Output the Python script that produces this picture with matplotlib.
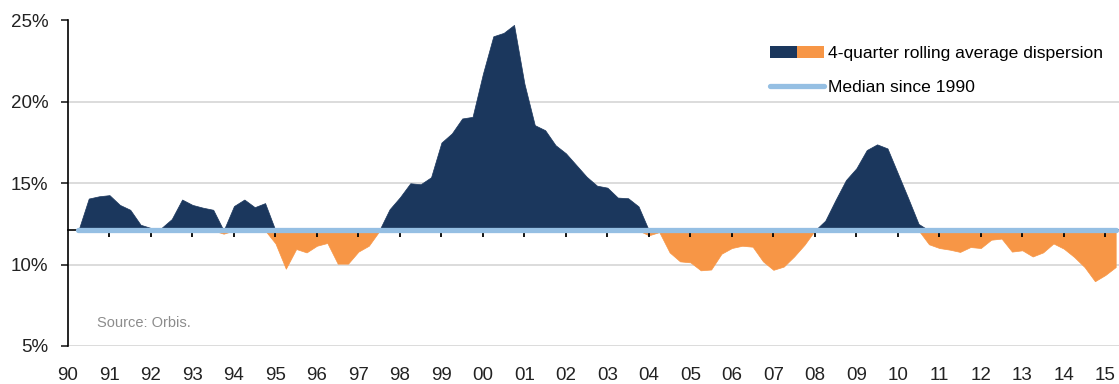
import matplotlib
matplotlib.use("Agg")
import matplotlib.pyplot as plt
import numpy as np
from matplotlib.patches import Patch
from matplotlib.lines import Line2D
from matplotlib.legend_handler import HandlerTuple

plt.rcParams['font.family'] = ['Liberation Sans', 'DejaVu Sans']

# quarterly 4-quarter rolling average dispersion (%), 1990 Q2 .. 2015 Q2
start_year = 1990.25
dispersion = [
    12.10, 14.06, 14.20,
    14.27, 13.67, 13.37, 12.45,   # 91
    12.25, 12.25, 12.80, 14.00,   # 92
    13.67, 13.50, 13.37, 11.90,   # 93
    13.60, 14.00, 13.53, 13.78,   # 94
    11.30, 9.75, 10.96, 10.75,    # 95
    11.16, 11.33, 10.06, 10.06,   # 96
    10.80, 11.16, 12.05, 13.40,   # 97
    14.14, 15.00, 14.94, 15.37,   # 98
    17.50, 18.06, 18.98, 19.08,   # 99
    21.73, 24.03, 24.24, 24.73,   # 00
    21.12, 18.57, 18.26, 17.34,   # 01
    16.84, 16.12, 15.40, 14.85,   # 02
    14.73, 14.12, 14.08, 13.58,   # 03
    11.80, 12.00, 10.75, 10.20,   # 04
    10.14, 9.65, 9.70, 10.67,     # 05
    11.02, 11.16, 11.10, 10.20,   # 06
    9.68, 9.88, 10.50, 11.22,     # 07
    12.10, 12.70, 13.98, 15.20,   # 08
    15.92, 17.04, 17.39, 17.14,   # 09
    15.61, 14.08, 12.50, 11.25,   # 10
    11.02, 10.92, 10.78, 11.08,   # 11
    11.02, 11.53, 11.60, 10.80,   # 12
    10.88, 10.50, 10.75, 11.30,   # 13
    10.98, 10.47, 9.85, 8.98,     # 14
    9.36, 9.85,                   # 15
]
median = 12.1
years = list(range(1990, 2016))
year_labels = ['%02d' % (y % 100) for y in years]
y_ticks = [5, 10, 15, 20, 25]

navy = '#1b375d'
orange = '#f79646'
light_blue = '#95bfe3'

v = np.array(dispersion)
x = start_year + 0.25 * np.arange(len(v))
med = np.full_like(v, median)

fig = plt.figure(figsize=(11.19, 3.84), dpi=100)
ax = fig.add_axes([68 / 1119, 38 / 384, 1 - 68 / 1119, 325.5 / 384])

ax.fill_between(x, med, np.maximum(v, med), color=navy, lw=0.5, edgecolor=navy, zorder=1)
ax.fill_between(x, np.minimum(v, med), med, color=orange, lw=0.5, edgecolor=orange, zorder=1)
ax.plot(x, med, color=light_blue, lw=3.8, solid_capstyle='round', zorder=3)

ax.set_xlim(1990, 2015.33)
ax.set_ylim(5, 25)
ax.set_yticks(y_ticks)
ax.set_yticklabels(['%d%%' % t for t in y_ticks])
ax.set_xticks(years)
ax.set_xticklabels(year_labels)
ax.yaxis.grid(True, color='#d9d9d9', lw=1.3)
ax.set_axisbelow(True)

for s in ['top', 'right', 'bottom']:
    ax.spines[s].set_visible(False)
ax.spines['left'].set_linewidth(1.2)
ax.tick_params(axis='y', direction='out', length=5, width=1.2, pad=9, labelsize=13.5, colors='#222222')
ax.tick_params(axis='x', length=0, pad=15, labelsize=13.5, colors='#222222')

# x axis crossing at the median, with tick marks only
sec = ax.secondary_xaxis((median - 5) / 20)
sec.set_xticks(years[1:])
sec.tick_params(direction='out', length=5, width=1.3, labelbottom=False, labeltop=False)
sec.spines['bottom'].set_linewidth(1.2)
sec.set_zorder(2)

fig.text(97 / 1119, 1 - 323 / 384, 'Source: Orbis.', color='#8c8c8c', fontsize=10.5, va='center')

handles = [(Patch(facecolor=navy), Patch(facecolor=orange)),
           Line2D([], [], color=light_blue, lw=3.8, solid_capstyle='round')]
labels = ['4-quarter rolling average dispersion', 'Median since 1990']
fig.legend(handles, labels, loc='upper left', bbox_to_anchor=(770 / 1119, 1 - 46 / 384),
           frameon=False, fontsize=12.6, borderpad=0, borderaxespad=0, handlelength=3.1,
           handleheight=0.7, handletextpad=0.22, labelspacing=1.05,
           handler_map={tuple: HandlerTuple(ndivide=None, pad=0)})

fig.savefig('out.png', dpi=100)
